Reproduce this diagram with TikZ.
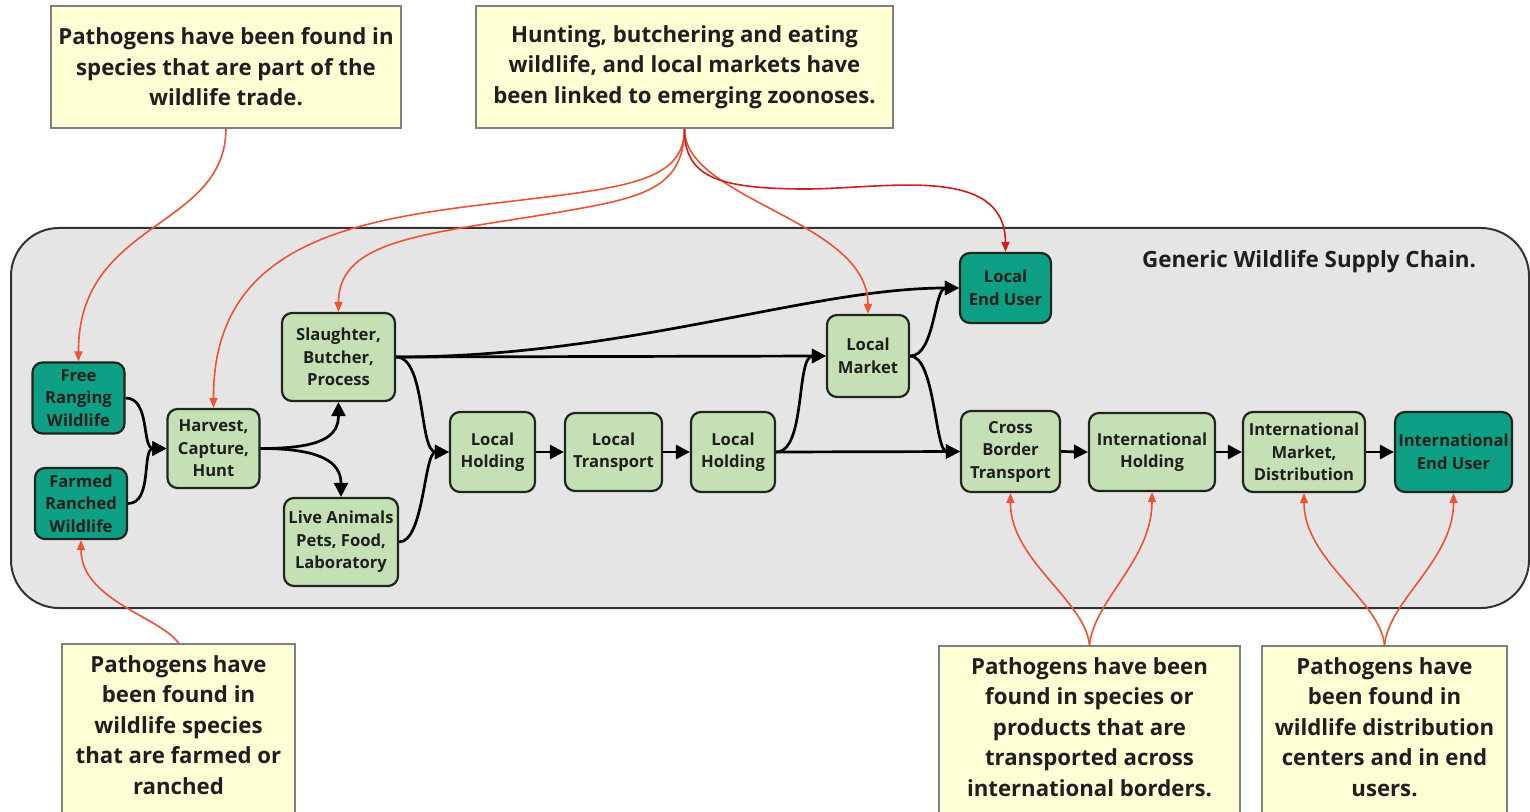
\documentclass[tikz,border=0pt]{standalone}
\usepackage{fontspec}
\setmainfont{Open Sans}
\usetikzlibrary{arrows.meta}
\definecolor{tealc}{HTML}{0DA084}
\definecolor{lgreen}{HTML}{C5E0B4}
\definecolor{bord}{HTML}{1E261E}
\definecolor{txt}{HTML}{1F1F1F}
\definecolor{panel}{HTML}{E5E5E5}
\definecolor{panelbord}{HTML}{333333}
\definecolor{notefill}{HTML}{FFFFD6}
\definecolor{notebord}{HTML}{7F7F7F}
\definecolor{redA}{HTML}{EF5233}
\definecolor{redB}{HTML}{D01E1E}
\begin{document}
\begin{tikzpicture}[x=0.5pt,y=-0.5pt,
  every node/.style={font=\fontsize{8.3}{11.25}\selectfont\bfseries, text=txt},
  box/.style={draw=bord, line width=1.1pt, rounded corners=5pt, align=center, inner sep=0.5pt},
  lg/.style={box, fill=lgreen},
  dk/.style={box, fill=tealc},
  note/.style={draw=notebord, line width=0.8pt, fill=notefill, inner sep=0pt, align=center,
    font=\fontsize{11.1}{15.25}\selectfont\bfseries},
  notetext/.style={align=center, inner sep=0pt, font=\fontsize{11.1}{15.25}\selectfont\bfseries},
  flow/.style={line width=1.35pt, -{Triangle[length=7pt,width=7pt]}},
  link/.style={draw=redA, line width=0.8pt, -{Triangle[length=5pt,width=4pt]}},
]
\useasboundingbox (0,0) rectangle (1530,812);
\clip (0,0) rectangle (1530,812);
\fill[white] (0,0) rectangle (1530,812);

% panel
\draw[fill=panel, draw=panelbord, line width=1pt, rounded corners=24pt] (11,228) rectangle (1529,608);
\node[font=\fontsize{11.2}{13}\selectfont\bfseries] (title) at (1309,262) {Generic Wildlife Supply Chain.};

% notes
\node[note, minimum width=175pt, minimum height=61pt] (n1) at (226,67)
  {Pathogens have been found in\\species that are part of the\\wildlife trade.};
\node[note, minimum width=208.5pt, minimum height=61pt] (n2) at (684.5,67)
  {Hunting, butchering and eating\\wildlife, and local markets have\\been linked to emerging zoonoses.};
\node[note, anchor=north, minimum width=116.5pt, minimum height=95pt] (n3) at (178.5,643) {};
\node[notetext] (t3) at (178.5,725) {Pathogens have\\been found in\\wildlife species\\that are farmed or\\ranched};
\node[note, anchor=north, minimum width=150.5pt, minimum height=95pt] (n4) at (1089.5,645) {};
\node[notetext] (t4) at (1089.5,727) {Pathogens have been\\found in species or\\products that are\\transported across\\international borders.};
\node[note, anchor=north, minimum width=122.5pt, minimum height=95pt] (n5) at (1384.5,645) {};
\node[notetext] (t5) at (1384.5,727) {Pathogens have\\been found in\\wildlife distribution\\centers and in end\\users.};

% chain nodes
\node[dk, minimum width=46pt, minimum height=35.5pt] (free) at (78.5,398) {Free\\Ranging\\Wildlife};
\node[dk, minimum width=46pt, minimum height=35.5pt] (farmed) at (81,503.5) {Farmed\\Ranched\\Wildlife};
\node[lg, minimum width=46pt, minimum height=39.5pt] (harvest) at (213.5,448.5) {Harvest,\\Capture,\\Hunt};
\node[lg, minimum width=56.5pt, minimum height=44pt] (slaughter) at (338.5,357) {Slaughter,\\Butcher,\\Process};
\node[lg, minimum width=57pt, minimum height=44pt] (live) at (341,542) {Live Animals\\Pets, Food,\\Laboratory};
\node[lg, minimum width=42.5pt, minimum height=40pt] (lh1) at (492.5,452) {Local\\Holding};
\node[lg, minimum width=48.5pt, minimum height=39pt] (lt) at (613.5,452) {Local\\Transport};
\node[lg, minimum width=42pt, minimum height=40pt] (lh2) at (733,452) {Local\\Holding};
\node[lg, minimum width=41pt, minimum height=41pt] (lm) at (868,356) {Local\\Market};
\node[dk, minimum width=45.5pt, minimum height=35pt] (leu) at (1005.5,288) {Local\\End User};
\node[lg, minimum width=49.5pt, minimum height=40.5pt] (cbt) at (1010.5,451.5) {Cross\\Border\\Transport};
\node[lg, minimum width=63pt, minimum height=39pt] (ih) at (1152,452) {International\\Holding};
\node[lg, minimum width=61pt, minimum height=40pt] (im) at (1304,452) {International\\Market,\\Distribution};
\node[dk, minimum width=58.5pt, minimum height=40pt] (ieu) at (1453.5,452) {International\\End User};

% black flows
\draw[flow] (free.east) .. controls +(25,0) and +(-25,0) .. (harvest.west);
\draw[flow] (farmed.east) .. controls +(25,0) and +(-25,0) .. (harvest.west);
\draw[flow] (harvest.east) .. controls +(60,0) and +(0,35) .. (slaughter.south);
\draw[flow] (harvest.east) .. controls +(60,0) and +(0,-35) .. (live.north);
\draw[flow] (slaughter.east) -- (lm.west);
\draw[flow] (slaughter.east) .. controls +(230,0) and +(-150,0) .. (leu.west);
\draw[flow] (slaughter.east) .. controls +(30,0) and +(-30,0) .. (lh1.west);
\draw[flow] (live.east) .. controls +(25,0) and +(-25,0) .. (lh1.west);
\draw[flow] (lh1.east) -- (lt.west);
\draw[flow] (lt.east) -- (lh2.west);
\draw[flow] (lh2.east) -- (cbt.west);
\draw[flow] (lh2.east) .. controls +(30,0) and +(-30,0) .. (lm.west);
\draw[flow] (lm.east) .. controls +(25,0) and +(-25,0) .. (leu.west);
\draw[flow] (lm.east) .. controls +(25,0) and +(-25,0) .. (cbt.west);
\draw[flow] (cbt.east) -- (ih.west);
\draw[flow] (ih.east) -- (im.west);
\draw[flow] (im.east) -- (ieu.west);

% red links
\draw[link] (n1.south) .. controls (225,230) and (78,220) .. (free.north);
\draw[link] (n2.south) .. controls (684,185) and (620,188) .. (480,205) .. controls (340,222) and (213,250) .. (harvest.north);
\draw[link] (n2.south) .. controls (684,190) and (640,198) .. (560,212) .. controls (430,234) and (338.5,238) .. (slaughter.north);
\draw[link] (n2.south) .. controls (684,200) and (868,220) .. (lm.north);
\draw[link, draw=redB] (n2.south) .. controls (684,178) and (720,188) .. (800,189) .. controls (880,190) and (1005,162) .. (leu.north);
\draw[link] (n3.north) .. controls (160,617) and (81,600) .. (farmed.south);
\draw[link] (n4.north) .. controls (1085,600) and (1010,560) .. (cbt.south);
\draw[link] (n4.north) .. controls (1094,600) and (1152,560) .. (ih.south);
\draw[link] (n5.north) .. controls (1380,600) and (1304,560) .. (im.south);
\draw[link] (n5.north) .. controls (1389,600) and (1453.5,560) .. (ieu.south);
\end{tikzpicture}
\end{document}
